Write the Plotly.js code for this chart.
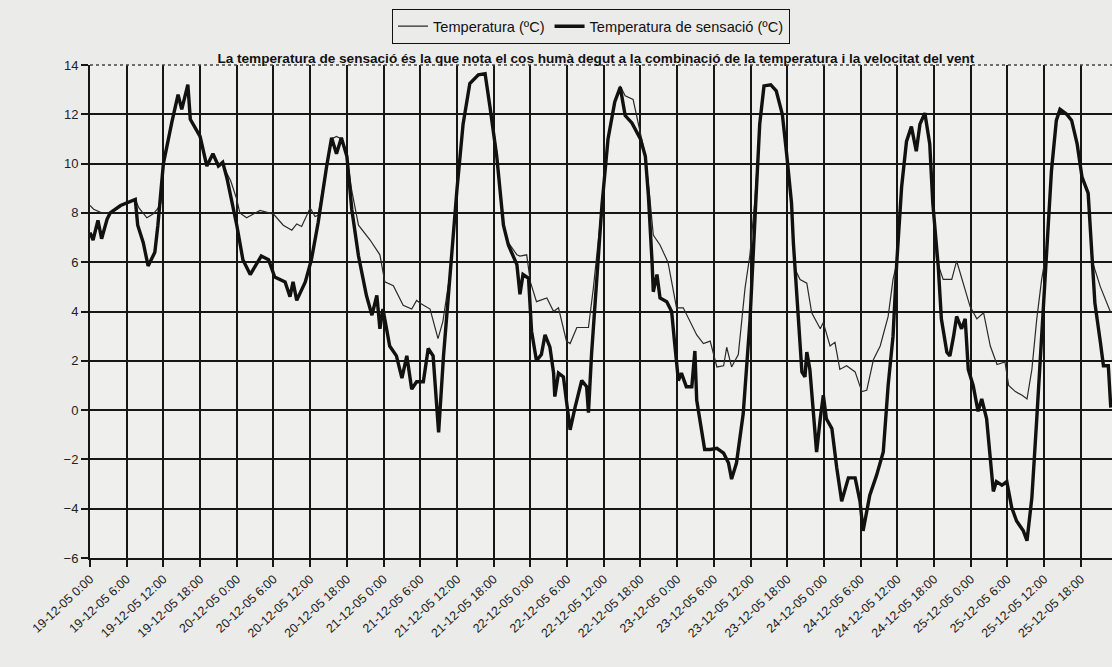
<!DOCTYPE html>
<html>
<head>
<meta charset="utf-8">
<script src="https://cdn.plot.ly/plotly-3.0.1.min.js"></script>
<style>
html,body{margin:0;padding:0;background:#ebebea;}
#chart{width:1112px;height:667px;}
</style>
</head>
<body>
<div id="chart"></div>
<script>
// x tick labels (every 6 hours, starting 19-12-05 0:00)
const tickLabels = [
  "19-12-05 0:00","19-12-05 6:00","19-12-05 12:00","19-12-05 18:00",
  "20-12-05 0:00","20-12-05 6:00","20-12-05 12:00","20-12-05 18:00",
  "21-12-05 0:00","21-12-05 6:00","21-12-05 12:00","21-12-05 18:00",
  "22-12-05 0:00","22-12-05 6:00","22-12-05 12:00","22-12-05 18:00",
  "23-12-05 0:00","23-12-05 6:00","23-12-05 12:00","23-12-05 18:00",
  "24-12-05 0:00","24-12-05 6:00","24-12-05 12:00","24-12-05 18:00",
  "25-12-05 0:00","25-12-05 6:00","25-12-05 12:00","25-12-05 18:00"
];
const yTicks = [-6,-4,-2,0,2,4,6,8,10,12,14];

// Temperatura (ºC) — hours since 19-12-05 0:00
const tempHours = [0,0.6,1.9,3.3,5.0,7.4,8.0,9.3,10.3,11.0,11.6,12.0,13.4,14.4,15.0,16.0,16.4,18.0,19.1,20.1,21.0,21.7,22.4,23.0,24.0,24.5,25.6,27.8,30.0,31.6,33.0,33.8,34.6,36.0,36.8,37.3,38.7,39.5,40.3,41.1,42.0,42.8,43.9,45.8,47.4,48.2,49.6,51.2,52.6,53.4,54.2,55.6,56.9,57.7,58.9,60.0,61.0,62.1,63.5,64.6,65.4,66.5,67.6,68.1,69.8,70.3,71.4,72.0,73.0,74.7,75.8,76.6,77.9,78.5,79.6,81.5,82.3,83.7,84.7,85.8,86.7,87.5,88.8,89.6,90.8,91.5,92.1,93.2,94.5,95.3,95.9,97.0,98.1,99.2,100.3,101.4,102.5,103.6,104.1,104.9,106.0,107.1,107.9,108.7,109.5,110.2,111.3,112.2,113.2,113.9,114.7,115.3,116.1,117.2,118.0,119.4,119.9,121.0,121.8,122.6,123.7,125.1,126.2,127.0,128.1,129.2,130.5,131.3,131.9,132.7,133.5,134.3,135.1,135.7,136.5,137.3,137.8,138.4,139.5,140.9,141.7,142.5,143.9,145.0,146.1,147.2,148.3,149.6,150.2,151.3,152.4,153.2,154.0,154.8,155.6,156.4,157.2,158.0,158.6,159.7,160.5,161.4,162.2,163.2,163.8,165.2,166.9];
const tempValues = [8.3,8.15,8.0,8.0,8.3,8.55,8.2,7.8,7.95,8.15,8.4,10.0,11.7,12.7,12.3,13.0,11.8,11.1,10.0,10.3,10.0,10.0,9.6,9.3,8.55,8.0,7.8,8.1,7.95,7.5,7.3,7.55,7.45,8.2,7.85,7.9,9.9,11.0,11.1,11.0,10.3,8.9,7.5,6.9,6.3,5.2,5.05,4.25,4.1,4.45,4.3,4.1,2.9,3.6,5.6,8.95,11.6,13.25,13.6,13.65,12.4,10.5,7.65,6.9,6.3,6.25,6.3,5.2,4.4,4.55,4.0,4.15,2.8,2.7,3.35,3.35,4.95,8.3,11.0,12.5,13.15,12.75,12.6,11.65,10.3,8.7,7.1,6.7,6.0,4.95,4.15,4.15,3.6,3.05,2.7,2.8,1.75,1.8,2.55,1.75,2.25,4.95,6.3,8.5,11.5,13.15,13.2,12.95,12.0,10.4,8.4,5.7,5.3,5.15,3.95,3.3,3.55,2.6,2.75,1.65,1.8,1.55,0.75,0.8,2.05,2.6,3.8,5.3,5.95,9.05,10.9,11.5,10.6,11.6,12.05,10.8,8.4,6.1,5.3,5.3,6.05,5.4,4.2,3.7,3.95,2.6,1.85,1.95,1.0,0.75,0.6,0.45,1.65,3.7,5.3,6.5,9.7,11.75,12.2,12.0,11.75,10.8,9.45,8.8,6.1,5.0,3.95];

// Temperatura de sensació (ºC)
const sensHours = [0,0.5,1.3,1.9,2.8,3.3,5.0,7.4,7.8,8.7,9.5,10.6,11.1,12.0,13.4,14.4,15.0,16.0,16.4,18.0,19.1,20.1,21.0,21.7,22.4,23.0,24.0,25.0,26.2,28.0,29.2,30.2,31.9,32.7,33.2,33.8,35.2,36.2,37.3,38.7,39.5,40.3,41.1,42.0,42.8,43.9,45.2,46.1,46.9,47.4,47.9,49.0,50.1,51.0,51.8,52.6,53.4,54.5,55.3,56.1,57.0,57.8,58.9,60.0,61.0,62.1,63.5,64.6,65.4,66.5,67.6,68.4,69.8,70.3,70.8,71.7,72.2,73.0,73.8,74.4,75.2,75.8,76.0,76.6,77.4,78.2,78.5,79.3,80.4,81.2,81.5,82.0,82.8,83.7,84.7,85.8,86.7,87.5,88.6,90.0,90.8,91.3,91.9,92.1,92.7,93.2,94.3,95.1,95.6,96.2,96.7,97.5,98.4,98.9,99.2,100.0,100.5,101.4,102.5,103.6,104.4,104.9,105.7,106.8,107.9,108.7,109.5,110.2,111.3,112.2,113.2,113.9,114.7,115.0,115.6,116.1,116.4,116.9,117.2,117.7,118.3,118.8,119.4,119.9,120.4,121.3,122.1,122.9,124.0,125.1,125.9,126.4,127.5,128.6,129.7,130.5,131.3,131.9,132.7,133.5,134.3,135.1,135.7,136.5,137.3,137.8,138.7,139.2,140.1,140.6,141.2,141.7,142.5,143.1,143.6,144.4,145.2,145.8,146.6,147.1,147.7,148.2,149.1,149.9,150.7,151.5,152.6,153.2,154.0,154.8,155.6,156.4,157.2,158.0,158.6,159.7,160.5,161.4,162.2,163.2,163.8,164.3,165.2,165.7,166.5,166.9];
const sensValues = [7.2,6.9,7.7,6.95,7.75,8.0,8.3,8.55,7.5,6.8,5.85,6.4,7.5,10.0,11.7,12.8,12.2,13.2,11.8,11.1,9.9,10.4,9.9,10.05,9.4,8.7,7.5,6.1,5.5,6.25,6.1,5.4,5.2,4.6,5.2,4.45,5.2,6.1,7.6,9.9,11.05,10.4,11.05,10.3,8.15,6.25,4.65,3.85,4.65,3.3,4.1,2.6,2.2,1.3,2.2,0.85,1.15,1.15,2.5,2.2,-0.9,2.2,5.6,8.95,11.6,13.25,13.6,13.65,12.3,10.3,7.5,6.7,5.9,4.7,5.5,5.35,3.2,2.0,2.25,3.05,2.55,1.5,0.55,1.5,1.35,-0.15,-0.8,0.1,1.2,0.95,-0.1,2.25,4.95,8.3,11.0,12.5,13.1,11.95,11.65,11.0,10.3,8.7,6.0,4.8,5.5,4.55,4.4,4.0,2.7,1.2,1.5,0.95,0.95,2.4,0.4,-0.95,-1.6,-1.6,-1.55,-1.75,-2.15,-2.8,-2.15,-0.15,3.6,7.65,11.6,13.15,13.2,12.95,12.0,10.4,8.4,6.8,4.35,2.35,1.55,1.35,2.35,1.65,-0.35,-1.7,-0.35,0.6,-0.35,-0.75,-2.35,-3.7,-2.75,-2.75,-3.7,-4.9,-3.45,-2.65,-1.7,1.0,3.0,5.95,9.05,10.9,11.5,10.5,11.6,12.05,10.8,8.4,5.8,3.7,2.35,2.2,3.0,3.8,3.3,3.7,1.65,1.0,-0.05,0.45,-0.35,-1.7,-3.3,-2.9,-3.05,-2.9,-3.95,-4.5,-4.9,-5.3,-3.55,-0.35,3.0,6.35,9.7,11.75,12.2,12.0,11.75,10.8,9.45,8.8,6.35,4.35,2.75,1.8,1.8,0.1];

const tickVals = tickLabels.map((_, i) => i * 6);
const FONT = "Liberation Sans, Arial, sans-serif";

const traces = [
  {
    x: tempHours, y: tempValues, type: "scatter", mode: "lines",
    name: "Temperatura (ºC)",
    line: {color: "#2a2a2a", width: 1.2}
  },
  {
    x: sensHours, y: sensValues, type: "scatter", mode: "lines",
    name: "Temperatura de sensació (ºC)",
    line: {color: "#111111", width: 3.4}
  }
];

const layout = {
  width: 1112, height: 667,
  margin: {l: 90, r: 0, t: 65, b: 109, pad: 0},
  paper_bgcolor: "#ebebea",
  plot_bgcolor: "#efefee",
  font: {family: FONT, color: "#222", size: 12},
  showlegend: true,
  title: {
    text: "<b>La temperatura de sensació és la que nota el cos humà degut a la combinació de la temperatura i la velocitat del vent</b>",
    font: {family: FONT, size: 13.6, color: "#111"},
    x: 0.495, xref: "paper", xanchor: "center",
    y: 1 - 58/667, yref: "container", yanchor: "middle"
  },
  legend: {
    orientation: "h",
    x: 0.49, xref: "paper", xanchor: "center",
    y: 1 - 9/667, yref: "container", yanchor: "top",
    bordercolor: "#111", borderwidth: 1.2,
    bgcolor: "rgba(0,0,0,0)",
    font: {family: FONT, size: 14.6, color: "#111"},
    itemwidth: 30, tracegroupgap: 0
  },
  xaxis: {
    type: "linear",
    range: [0, 167.1],
    tickmode: "array", tickvals: tickVals, ticktext: tickLabels,
    tickangle: -43,
    tickfont: {family: FONT, size: 12.5, color: "#222"},
    showgrid: true, gridcolor: "#161616", gridwidth: 2,
    ticks: "outside", ticklen: 7, tickwidth: 2, tickcolor: "#161616",
    showline: true, linecolor: "#161616", linewidth: 2,
    zeroline: false, fixedrange: true
  },
  yaxis: {
    range: [-6, 14],
    tickmode: "array", tickvals: yTicks,
    tickfont: {family: FONT, size: 13, color: "#222"},
    showgrid: false,
    minor: {tickmode: "array", tickvals: [-4,-2,0,2,4,6,8,10,12], showgrid: true, gridcolor: "#161616", gridwidth: 2, ticks: ""},
    ticks: "outside", ticklen: 7, tickwidth: 2, tickcolor: "#161616",
    showline: true, linecolor: "#161616", linewidth: 2,
    zeroline: false, fixedrange: true
  },
  shapes: [
    {type: "line", xref: "paper", yref: "paper", x0: 0, x1: 1, y0: 1, y1: 1,
     line: {color: "#444", width: 1.5, dash: "dot"}}
  ]
};

Plotly.newPlot("chart", traces, layout, {displayModeBar: false, staticPlot: true});
</script>
</body>
</html>
